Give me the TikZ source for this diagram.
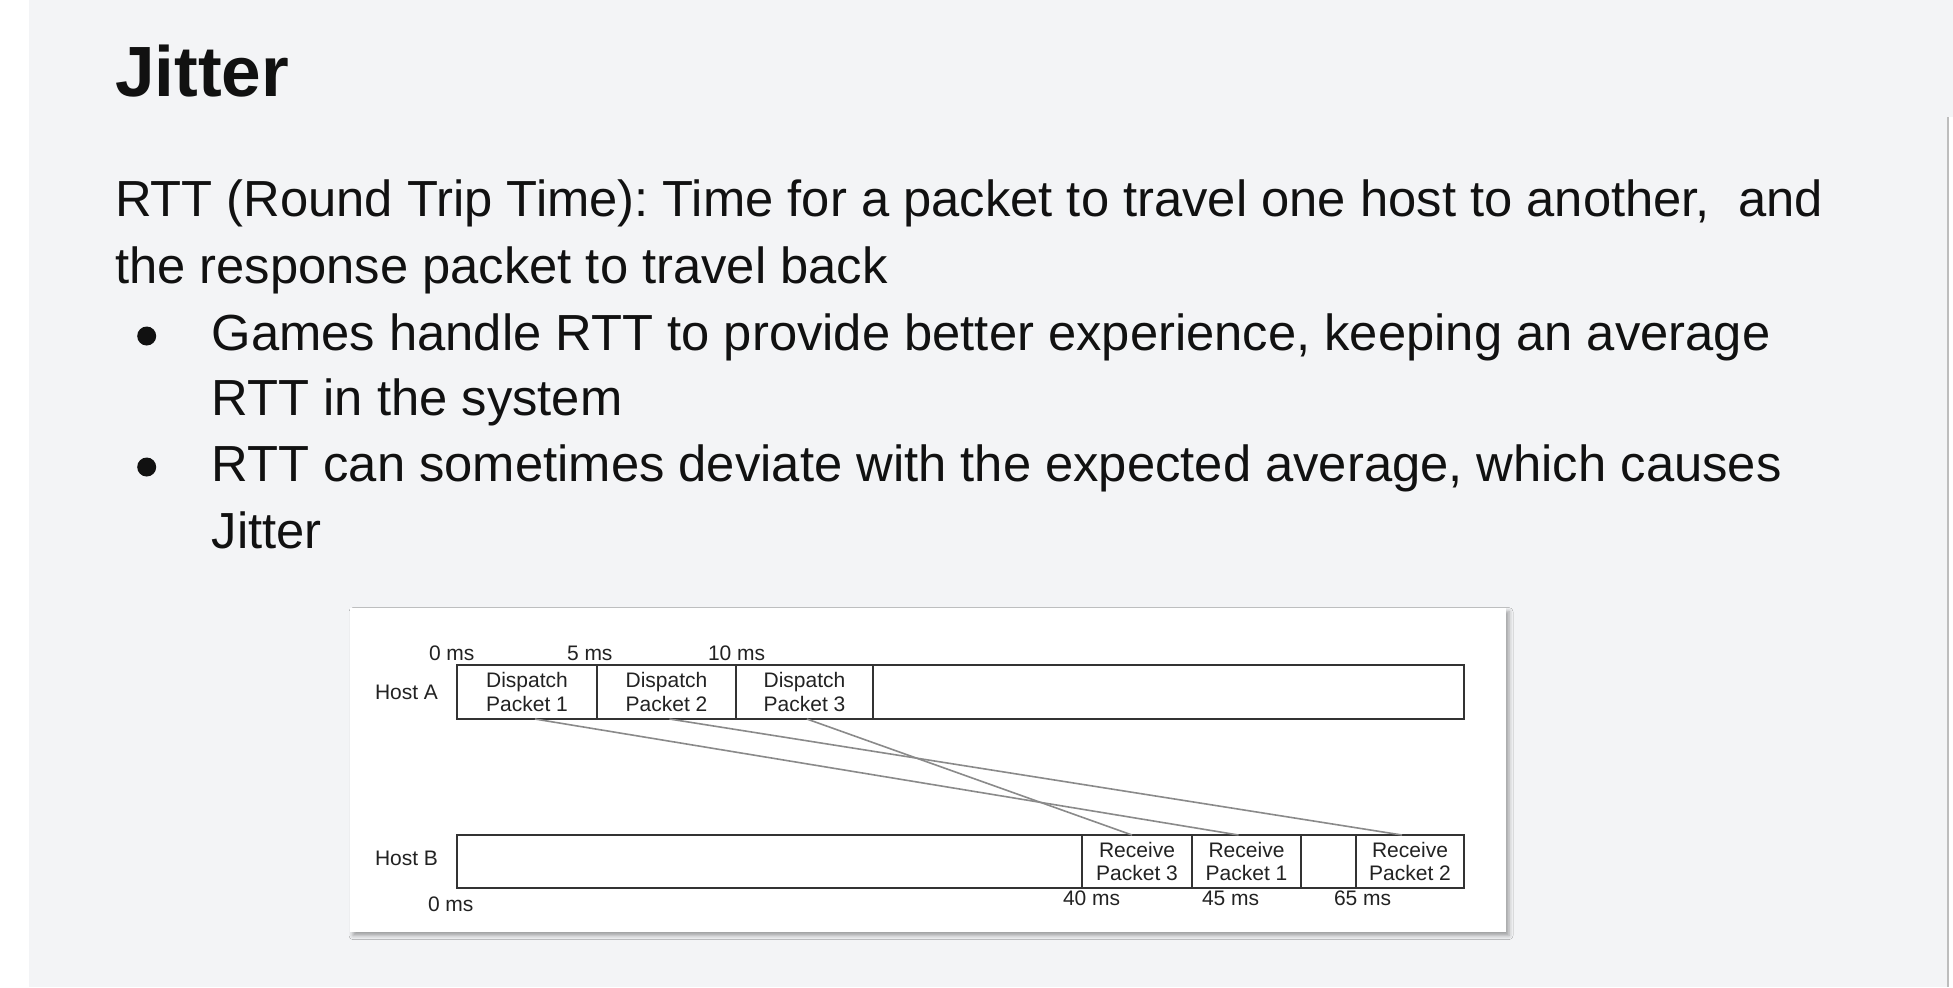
\documentclass[tikz,border=0pt]{standalone}
\usepackage{fontspec}
\setmainfont{Liberation Sans}
\usetikzlibrary{shadows.blur}
\definecolor{pagebg}{HTML}{F3F4F6}
\definecolor{barline}{HTML}{333333}
\definecolor{linkgray}{HTML}{8A8A8A}
\definecolor{dtext}{HTML}{222222}
\definecolor{bodytext}{HTML}{111111}
\definecolor{edgegray}{HTML}{BDBDBD}
\newlength\mylinew
\newlength\mytitlew
\frenchspacing
\begin{document}
\settowidth\mylinew{\fontsize{20pt}{24pt}\selectfont RTT (Round Trip Time): Time for a packet to travel one host to another,\ \ and}%
\pgfmathsetmacro\mybodyfs{854/\mylinew*20}%
\settowidth\mytitlew{\fontsize{20pt}{24pt}\selectfont\bfseries Jitter}%
\pgfmathsetmacro\mytitlefs{87/\mytitlew*20}%
\begin{tikzpicture}[x=0.5pt,y=-0.5pt,
  bodytxt/.style={anchor=base west, inner sep=0pt, outer sep=0pt, text=bodytext,
    font=\fontsize{\mybodyfs pt}{\mybodyfs pt}\selectfont},
  titletxt/.style={anchor=base west, inner sep=0pt, outer sep=0pt, text=bodytext,
    font=\fontsize{\mytitlefs pt}{\mytitlefs pt}\selectfont\bfseries},
  bulletdot/.style={circle, fill=bodytext, minimum size=9.5pt, inner sep=0pt, outer sep=0pt},
  panel/.style={fill=white, anchor=north west, inner sep=0pt, outer sep=0pt,
    minimum width=578pt, minimum height=162pt,
    blur shadow={shadow xshift=1.5pt, shadow yshift=-1.8pt, shadow blur radius=2pt, shadow opacity=35}},
  cellbox/.style={draw=barline, line width=1pt, anchor=north west, inner sep=0pt, outer sep=0pt,
    align=center, text=dtext, font=\fontsize{10.5pt}{11.8pt}\selectfont},
  rowa/.style={cellbox, minimum height=27pt},
  rowb/.style={cellbox, minimum height=26.5pt},
  lbl/.style={anchor=base west, inner sep=0pt, outer sep=0pt, text=dtext,
    font=\fontsize{10.5pt}{12pt}\selectfont},
  link/.style={draw=linkgray, line width=0.8pt}
]
\useasboundingbox (0,0) rectangle (1953,987);
% page
\fill[pagebg] (0,0) rectangle (1953,987);
\fill[white] (0,0) rectangle (29,987);
\fill[white] (1948,117) rectangle (1953,987);
\draw[edgegray, line width=0.8pt] (1948,117) -- (1948,987);

% title and text
\node[titletxt] (title) at (115,96) {Jitter};
\node[bodytxt] (l1) at (115,216.7) {RTT (Round Trip Time): Time for a packet to travel one host to another,\ \ and};
\node[bodytxt] (l2) at (115,283.3) {the response packet to travel back};
\node[bulletdot] (b1) at (146.7,336) {};
\node[bodytxt] (l3) at (211.7,350) {Games handle RTT to provide better experience, keeping an average};
\node[bodytxt] (l4) at (211.7,415) {RTT in the system};
\node[bulletdot] (b2) at (146.7,467) {};
\node[bodytxt] (l5) at (211.7,481.7) {RTT can sometimes deviate with the expected average, which causes};
\node[bodytxt] (l6) at (211.7,548.3) {Jitter};

% diagram panel
\node[panel] (pan) at (350,608) {};

% Host A row
\node[rowa, minimum width=70pt] (d1) at (457,665) {Dispatch\\Packet 1};
\node[rowa, minimum width=69.5pt] (d2) at (597,665) {Dispatch\\Packet 2};
\node[rowa, minimum width=68.5pt] (d3) at (736,665) {Dispatch\\Packet 3};
\node[rowa, minimum width=295.5pt] (arest) at (873,665) {};

% Host B row
\node[rowb, minimum width=312.5pt] (brest) at (457,835) {};
\node[rowb, minimum width=55pt] (r3) at (1082,835) {Receive\\Packet 3};
\node[rowb, minimum width=54.5pt] (r1) at (1192,835) {Receive\\Packet 1};
\node[rowb, minimum width=27.5pt] (bgap) at (1301,835) {};
\node[rowb, minimum width=54pt] (r2) at (1356,835) {Receive\\Packet 2};

% labels
\node[lbl] (ha) at (375,699) {Host A};
\node[lbl] (hb) at (375,865.5) {Host B};
\node[lbl] (t0) at (429,660) {0 ms};
\node[lbl] (t5) at (567,660) {5 ms};
\node[lbl] (t10) at (708,660) {10 ms};
\node[lbl] (u0) at (428,911.5) {0 ms};
\node[lbl] (u40) at (1063,905.5) {40 ms};
\node[lbl] (u45) at (1202,905.5) {45 ms};
\node[lbl] (u65) at (1334,905.5) {65 ms};

% packet paths
\draw[link] ([xshift=4pt]d1.south) -- ([xshift=-4pt]r1.north);
\draw[link] ([xshift=1.5pt]d2.south) -- ([xshift=-4pt]r2.north);
\draw[link] ([xshift=1.2pt]d3.south) -- ([xshift=-2.5pt]r3.north);
\end{tikzpicture}
\end{document}
